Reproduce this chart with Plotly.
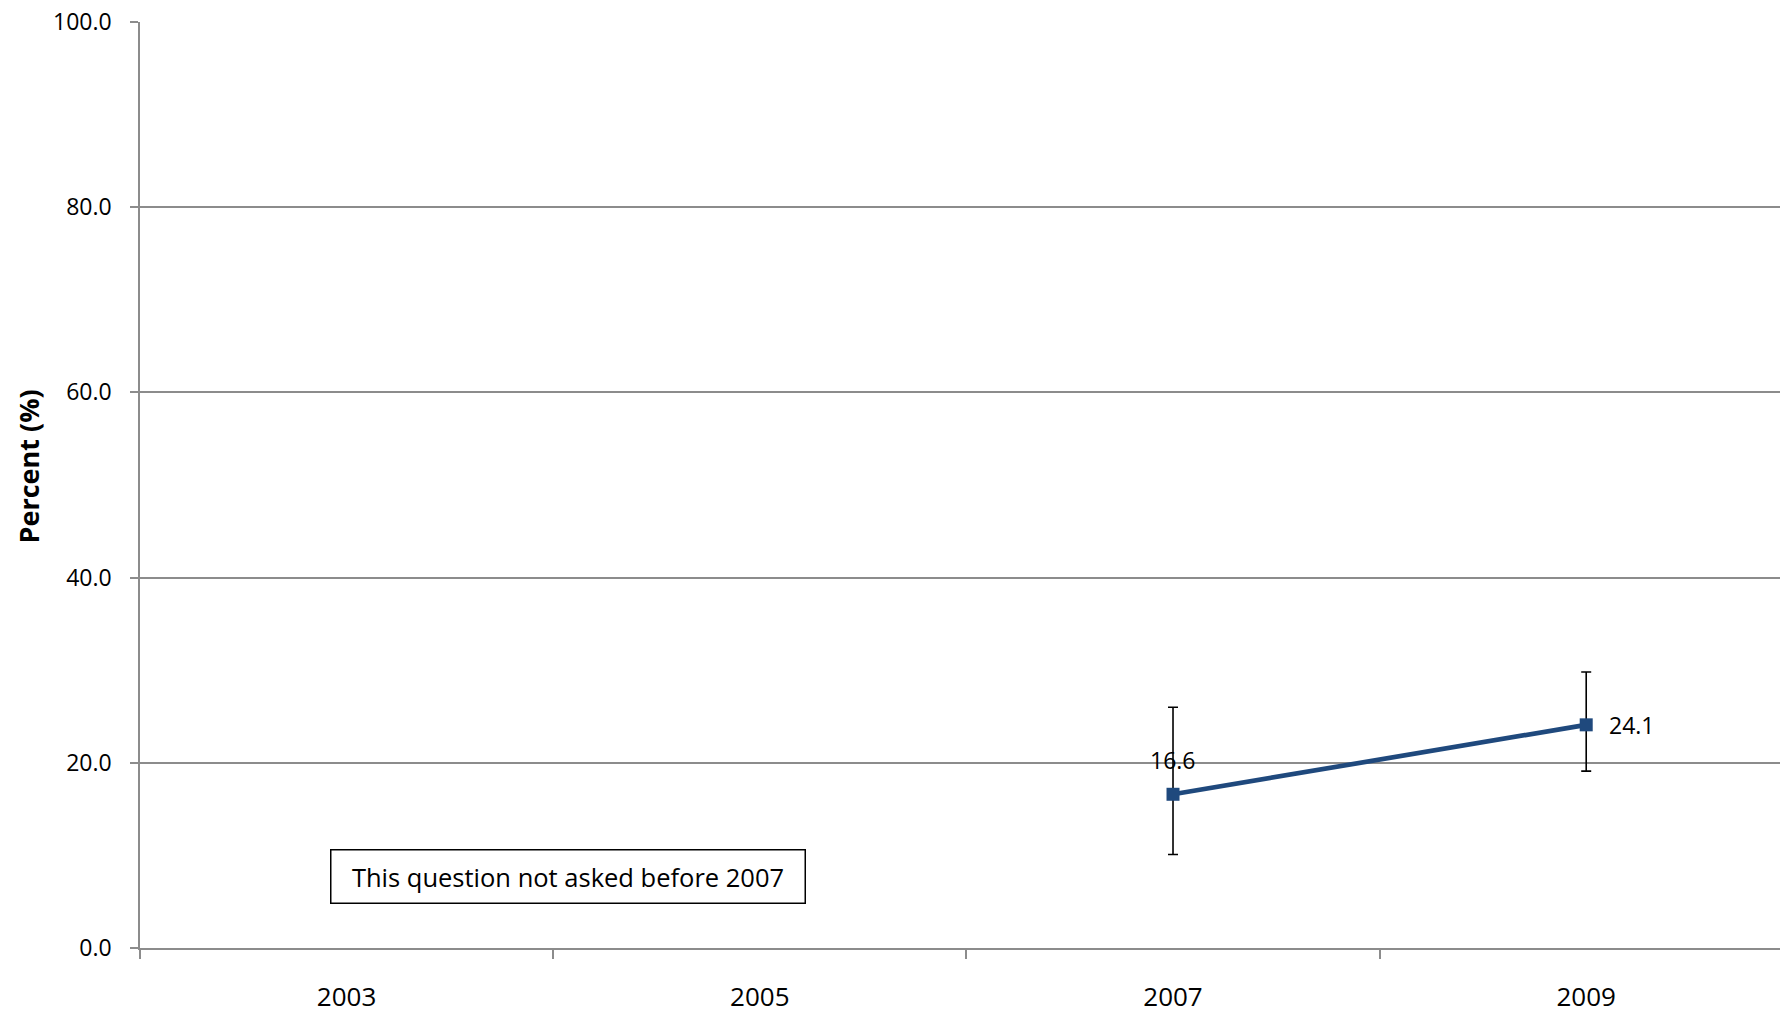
import plotly.graph_objects as go

years = ["2003", "2005", "2007", "2009"]
percent = [None, None, 16.6, 24.1]
err_plus = [None, None, 9.4, 5.7]
err_minus = [None, None, 6.5, 5.0]
y_ticks = [0, 20, 40, 60, 80, 100]
note_text = "This question not asked before 2007"

LINE_COLOR = "#1F497D"
GRID = "#8C8C8C"
FONT = "Open Sans"

fig = go.Figure()
fig.add_trace(go.Scatter(
    x=years, y=percent, mode="lines+markers",
    line=dict(color=LINE_COLOR, width=4.7),
    marker=dict(symbol="square", size=13, color=LINE_COLOR),
    error_y=dict(type="data", symmetric=False, array=err_plus, arrayminus=err_minus,
                 color="black", thickness=1.6, width=5),
    connectgaps=False, showlegend=False, hoverinfo="skip",
))

# data labels
for i, v in enumerate(percent):
    if v is None:
        continue
    if i == 2:
        fig.add_annotation(x=i, y=v, xref="x", yref="y", text=f"{v:.1f}", showarrow=False,
                           xanchor="center", yanchor="middle", yshift=34,
                           font=dict(family=FONT, size=23, color="black"))
    else:
        fig.add_annotation(x=i, y=v, xref="x", yref="y", text=f"{v:.1f}", showarrow=False,
                           xanchor="left", yanchor="middle", xshift=21,
                           font=dict(family=FONT, size=23, color="black"))

fig.add_annotation(x=0.2609, y=0.0777, xref="paper", yref="paper", text=note_text,
                   showarrow=False, xanchor="center", yanchor="middle",
                   width=473, height=52, borderpad=0, borderwidth=1.5, bordercolor="black",
                   bgcolor="white", font=dict(family=FONT, size=25.5, color="black"))

fig.add_annotation(x=-0.0683, y=0.520, xref="paper", yref="paper", text="<b>Percent (%)</b>",
                   showarrow=False, textangle=-90, xanchor="center", yanchor="middle",
                   font=dict(family=FONT, size=27, color="black"))

fig.update_layout(
    width=1780, height=1014,
    margin=dict(l=140, r=0, t=22, b=66, autoexpand=False),
    paper_bgcolor="white", plot_bgcolor="white",
    font=dict(family=FONT, size=23, color="black"),
    xaxis=dict(type="category", range=[-0.5, 3.469], tickson="boundaries", automargin=False,
               showgrid=False, showline=True, linecolor=GRID, linewidth=1.5,
               ticks="outside", ticklen=9, tickcolor=GRID, tickwidth=1.5,
               ticklabelstandoff=25, ticklabeloverflow="allow",
               tickfont=dict(size=26), zeroline=False),
    yaxis=dict(range=[0, 100], tickvals=y_ticks, ticktext=[f"{t:.1f}" for t in y_ticks],
               automargin=False, showgrid=True, gridcolor=GRID, gridwidth=1.5,
               showline=True, linecolor=GRID, linewidth=1.5,
               ticks="outside", ticklen=8, tickcolor=GRID, tickwidth=1.5,
               ticklabelstandoff=14, ticklabeloverflow="allow",
               tickfont=dict(size=23), zeroline=False),
)

fig.write_html("out.html", config={"displayModeBar": False},
               post_script="document.body.style.margin='0';document.body.style.overflow='hidden';")
